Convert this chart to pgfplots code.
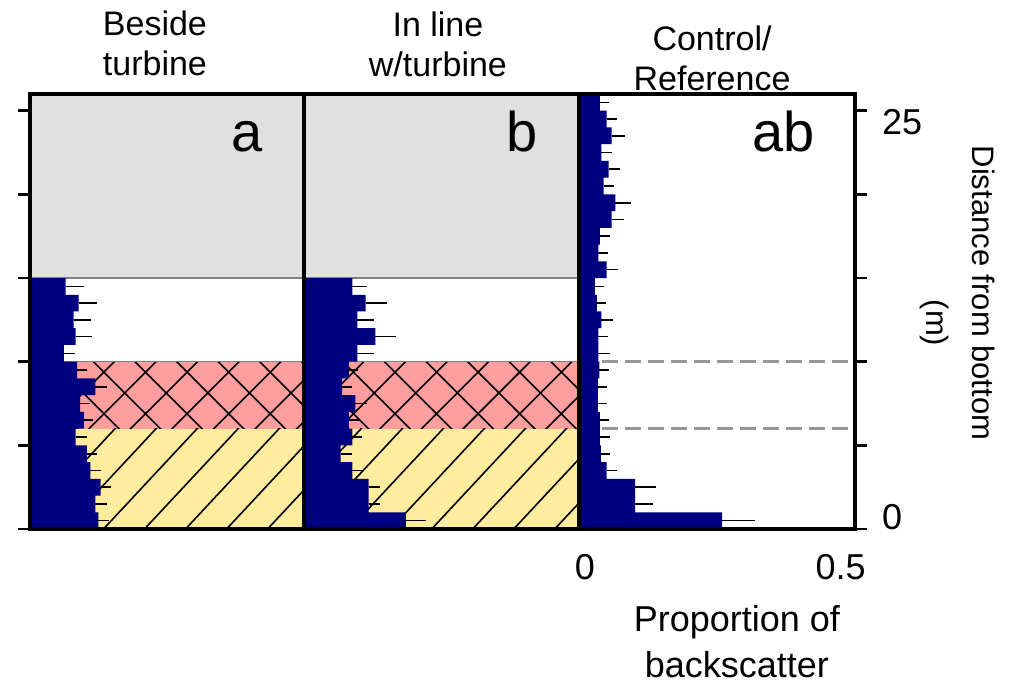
\documentclass[border=0pt]{standalone}
\usepackage{fontspec}
\setmainfont{Liberation Sans}
\usepackage{pgfplots}
\usepackage{pgfplotstable}
\pgfplotsset{compat=1.18}
\usetikzlibrary{patterns.meta}

\definecolor{barblue}{RGB}{0,0,128}
\definecolor{zonegray}{RGB}{224,224,224}
\definecolor{zonepink}{RGB}{255,158,158}
\definecolor{zoneyellow}{RGB}{255,236,158}
\definecolor{dashgray}{RGB}{150,150,150}

% depth bin centre (m), proportion of backscatter, upper error
\pgfplotstableread{
y    x     ex
0.5  0.135 0.010
1.5  0.129 0.012
2.5  0.139 0.010
3.5  0.119 0.012
4.5  0.112 0.010
5.5  0.090 0.012
6.5  0.106 0.008
7.5  0.099 0.010
8.5  0.129 0.012
9.5  0.093 0.010
10.5 0.067 0.012
11.5 0.090 0.022
12.5 0.086 0.024
13.5 0.096 0.026
14.5 0.070 0.026
}\besidetab

\pgfplotstableread{
y    x     ex
0.5  0.200 0.030
1.5  0.127 0.012
2.5  0.127 0.012
3.5  0.095 0.010
4.5  0.072 0.012
5.5  0.095 0.010
6.5  0.088 0.010
7.5  0.101 0.012
8.5  0.075 0.010
9.5  0.088 0.008
10.5 0.105 0.022
11.5 0.140 0.030
12.5 0.105 0.022
13.5 0.121 0.032
14.5 0.095 0.018
}\inlinetab

\pgfplotstableread{
y    x     ex
0.5  0.280 0.055
1.5  0.110 0.025
2.5  0.110 0.030
3.5  0.054 0.010
4.5  0.043 0.008
5.5  0.041 0.010
6.5  0.041 0.008
7.5  0.037 0.008
8.5  0.037 0.008
9.5  0.040 0.008
10.5 0.038 0.012
11.5 0.038 0.008
12.5 0.044 0.012
13.5 0.035 0.008
14.5 0.031 0.008
15.5 0.054 0.012
16.5 0.038 0.008
17.5 0.041 0.010
18.5 0.064 0.014
19.5 0.071 0.020
20.5 0.048 0.010
21.5 0.058 0.012
22.5 0.044 0.010
23.5 0.064 0.016
24.5 0.054 0.010
25.5 0.041 0.008
}\controltab

\tikzset{letter/.style={font=\fontsize{28}{28}\selectfont, anchor=base}}

\pgfplotsset{
  panel/.style={
    scale only axis, anchor=south west,
    height=217.5pt,
    xmin=0, xmax=0.54, ymin=0, ymax=26,
    axis on top,
    axis line style={black, line width=1.8pt},
    tick align=outside,
    major tick length=6pt,
    tick style={black, line width=1.4pt},
    xtick=\empty,
    ytick={0,5,...,25},
    yticklabels={},
    /pgf/number format/assume math mode=true,
    tick label style={font=\fontsize{18}{22}\selectfont},
    title style={font=\fontsize{17}{20}\selectfont, align=center, anchor=center, yshift=-6pt},
  },
  profile/.style={
    xbar, bar width=1, fill=barblue, draw=none,
    error bars/.cd, x dir=plus, x explicit,
    error bar style={black, line width=0.8pt},
    error mark options={black, mark size=2.5pt, line width=0.8pt},
  },
}

\newcommand{\zones}{%
  \fill[zonegray] (axis cs:0,15) rectangle (axis cs:0.54,26);
  \fill[zonepink] (axis cs:0,6) rectangle (axis cs:0.54,10);
  \fill[pattern={Hatch[angle=45,distance=14.7pt,line width=0.8pt]}, pattern color=black]
    (axis cs:0,6) rectangle (axis cs:0.54,10);
  \fill[zoneyellow] (axis cs:0,0) rectangle (axis cs:0.54,6);
  \fill[pattern={Lines[angle=47,distance=15pt,line width=0.8pt]}, pattern color=black]
    (axis cs:0,0) rectangle (axis cs:0.54,6);
  \draw[gray, line width=0.6pt] (axis cs:0,15) -- (axis cs:0.54,15);
  \draw[gray, line width=0.6pt] (axis cs:0,10) -- (axis cs:0.54,10);
}

\begin{document}
\begin{tikzpicture}
\useasboundingbox (0,0) rectangle (504.5pt,342pt);

\begin{axis}[panel, at={(15pt,77.5pt)}, width=137pt,
    ytick pos=left,
    title={Beside\\turbine},
    title style={at={(rel axis cs:0.456,1.116)}}]
  \zones
  \addplot[profile] table[x=x, y=y, x error=ex] {\besidetab};
  \node[letter] at (rel axis cs:0.794,0.867) {a};
\end{axis}

\begin{axis}[panel, at={(152pt,77.5pt)}, width=137.5pt,
    ytick=\empty,
    title={In line\\w/turbine},
    title style={at={(rel axis cs:0.487,1.115)}}]
  \zones
  \addplot[profile] table[x=x, y=y, x error=ex] {\inlinetab};
  \node[letter] at (rel axis cs:0.793,0.867) {b};
\end{axis}

\begin{axis}[panel, at={(289.5pt,77.5pt)}, width=138pt,
    ytick pos=right,
    extra y ticks={0.72,24.33},
    extra y tick labels={0,25},
    extra y tick style={major tick length=0pt, yticklabel style={anchor=west, xshift=10pt}},
    extra x ticks={0,0.5},
    extra x tick labels={0,0.5},
    extra x tick style={major tick length=0pt, xticklabel style={xshift=3pt, yshift=-9pt}},
    title={Control/\\Reference},
    title style={at={(rel axis cs:0.482,1.083)}},
    xlabel={Proportion of\\backscatter},
    xlabel style={at={(rel axis cs:0.572,-0.26)}, anchor=center, align=center,
      font=\fontsize{18}{23}\selectfont},
    ylabel={Distance from bottom\\\hspace*{30pt}(m)},
    ylabel style={at={(rel axis cs:1.373,0.5425)}, anchor=center, align=center,
      rotate=-180, font=\fontsize{15.5}{23}\selectfont}]
  \draw[dashgray, line width=1.6pt, dash pattern=on 8pt off 3.5pt] (axis cs:0,10) -- (axis cs:0.54,10);
  \draw[dashgray, line width=1.6pt, dash pattern=on 8pt off 3.5pt] (axis cs:0,6) -- (axis cs:0.54,6);
  \addplot[profile] table[x=x, y=y, x error=ex] {\controltab};
  \node[letter] at (rel axis cs:0.741,0.867) {ab};
\end{axis}
\end{tikzpicture}
\end{document}
